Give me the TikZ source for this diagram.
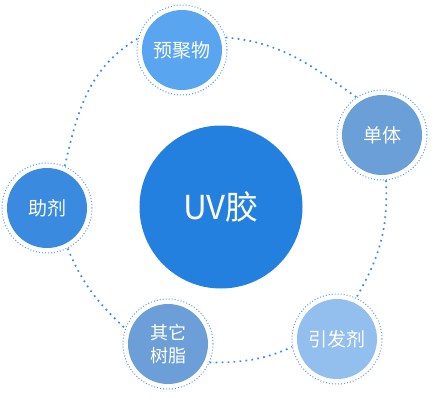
\documentclass[tikz,border=0pt]{standalone}
\usepackage{fontspec}
\setmainfont{Noto Sans CJK SC}
\definecolor{dotc}{HTML}{3A8AE0}
\definecolor{ringc}{HTML}{5A9CE6}
\definecolor{cmain}{HTML}{2480DE}
\definecolor{cpre}{HTML}{5AA5F0}
\definecolor{cmono}{HTML}{6A9FD8}
\definecolor{caux}{HTML}{3A8AE0}
\definecolor{cres}{HTML}{6C9FD8}
\definecolor{cini}{HTML}{93BFEE}
\tikzset{
  bigdots/.style={draw=dotc, line width=1.7pt, dash pattern=on 1.7pt off 4.3pt},
  ring/.style={circle, inner sep=0pt, minimum size=90pt, fill=white, draw=ringc, line width=1pt, dash pattern=on 1pt off 2pt},
  disk/.style={circle, inner sep=0pt, minimum size=80pt, text=white, font=\fontsize{19}{23}\selectfont, align=center},
  hub/.style={circle, inner sep=0pt, minimum size=163pt, fill=cmain, text=white, font=\fontsize{33}{36}\selectfont}
}
\begin{document}
\begin{tikzpicture}[x=1pt,y=-1pt]
\useasboundingbox (0,0) rectangle (440,410);
\node[hub] (n0) at (221,207) {UV胶};
\node[ring] (r1) at (182,50) {};
\node[disk, fill=cpre] (n1) at (182,50) {预聚物};
\node[ring] (r2) at (382,135) {};
\node[disk, fill=cmono] (n2) at (382,135) {单体};
\node[ring] (r3) at (337,339) {};
\node[disk, fill=cini] (n3) at (337,339) {引发剂};
\node[ring] (r4) at (168,344) {};
\node[disk, fill=cres, font=\fontsize{18}{23}\selectfont] (n4) at (168,344) {其它\\树脂};
\node[ring] (r5) at (47,208) {};
\node[disk, fill=caux] (n5) at (47,208) {助剂};
\draw[bigdots] (r1.16) to[out=-5, in=145] (r2.124);
\draw[bigdots] (r2.-85) to[out=-87, in=60] (r3.65);
\draw[bigdots] (r4.-24) to[out=0, in=-156] (r3.190);
\draw[bigdots] (r5.-63) to[out=-67, in=137] (r4.160);
\draw[bigdots] (r5.67) to[out=77, in=-149] (r1.165);
\end{tikzpicture}
\end{document}
